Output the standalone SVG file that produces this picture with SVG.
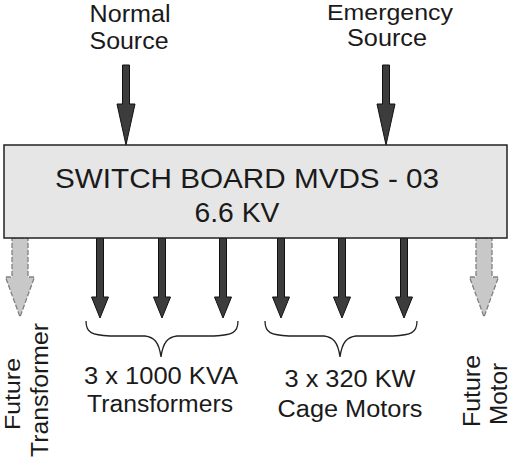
<svg xmlns="http://www.w3.org/2000/svg" width="511" height="461" viewBox="0 0 511 461">
<style>
.t{font-family:"Liberation Sans",Arial,sans-serif;fill:#1a1a1a}
.s{font-size:23px}
.dark{fill:#3c3c3c;stroke:#111;stroke-width:1}
.light{fill:#c8c8c8;stroke:#808080;stroke-width:1.3;stroke-dasharray:5 2}
.brace{fill:none;stroke:#222;stroke-width:1.3}
</style>
<defs>
<path id="topArrow" d="M-3.5,0 H3.5 V39 H9 L0,80 L-9,39 H-3.5 Z"/>
<path id="botArrow" d="M-3.5,0 H3.5 V59 H8.5 L0,80 L-8.5,59 H-3.5 Z"/>
<path id="futArrow" d="M-8,0 H8 V39 H14.5 L0,79 L-14.5,39 H-8 Z"/>
</defs>
<g id="connectors">
<use href="#topArrow" class="dark" transform="translate(126,65)"/>
<use href="#topArrow" class="dark" transform="translate(386,65)"/>
<use href="#botArrow" class="dark" transform="translate(100,238)"/>
<use href="#botArrow" class="dark" transform="translate(162,238)"/>
<use href="#botArrow" class="dark" transform="translate(223,238)"/>
<use href="#botArrow" class="dark" transform="translate(281,238)"/>
<use href="#botArrow" class="dark" transform="translate(342,238)"/>
<use href="#botArrow" class="dark" transform="translate(404,238)"/>
<use href="#futArrow" class="light" transform="translate(20,238)"/>
<use href="#futArrow" class="light" transform="translate(484,238)"/>
</g>
<g id="normal-source">
<text class="t s" x="130" y="22" text-anchor="middle" textLength="81" lengthAdjust="spacingAndGlyphs">Normal</text>
<text class="t s" x="129" y="49" text-anchor="middle" textLength="79" lengthAdjust="spacingAndGlyphs">Source</text>
</g>
<g id="emergency-source">
<text class="t" x="390" y="20" font-size="22" text-anchor="middle" textLength="126" lengthAdjust="spacingAndGlyphs">Emergency</text>
<text class="t s" x="387" y="46" text-anchor="middle" textLength="80" lengthAdjust="spacingAndGlyphs">Source</text>
</g>
<g id="switchboard">
<rect x="4" y="145" width="503" height="93" fill="#e6e6e6" stroke="#222" stroke-width="1.5"/>
<text class="t" x="247" y="188" font-size="28" text-anchor="middle" textLength="384" lengthAdjust="spacingAndGlyphs">SWITCH BOARD MVDS - 03</text>
<text class="t" x="237" y="222" font-size="28" text-anchor="middle" textLength="85" lengthAdjust="spacingAndGlyphs">6.6 KV</text>
</g>
<g id="transformers">
<path class="brace" d="M86,321 C86,333 92,335 110,336 H145 C154,337 159,342 161,357 C163,342 168,337 177,336 H214 C232,335 238,333 238,321"/>
<text class="t s" x="161" y="384" text-anchor="middle" textLength="154" lengthAdjust="spacingAndGlyphs">3 x 1000 KVA</text>
<text class="t s" x="160" y="412" text-anchor="middle" textLength="146" lengthAdjust="spacingAndGlyphs">Transformers</text>
</g>
<g id="motors">
<path class="brace" d="M265,321 C265,333 271,335 289,336 H324 C333,337 338,342 340,357 C342,342 347,337 356,336 H393 C411,335 417,333 417,321"/>
<text class="t s" x="350" y="387" text-anchor="middle" textLength="131" lengthAdjust="spacingAndGlyphs">3 x 320 KW</text>
<text class="t s" x="350" y="417" text-anchor="middle" textLength="145" lengthAdjust="spacingAndGlyphs">Cage Motors</text>
</g>
<g id="future-transformer">
<text class="t" transform="translate(20,394) rotate(-90)" font-size="22" text-anchor="middle" textLength="72" lengthAdjust="spacingAndGlyphs">Future</text>
<text class="t s" transform="translate(48,390) rotate(-90)" text-anchor="middle" textLength="134" lengthAdjust="spacingAndGlyphs">Transformer</text>
</g>
<g id="future-motor">
<text class="t s" transform="translate(480,391) rotate(-90)" text-anchor="middle" textLength="72" lengthAdjust="spacingAndGlyphs">Future</text>
<text class="t s" transform="translate(507,394) rotate(-90)" text-anchor="middle" textLength="62" lengthAdjust="spacingAndGlyphs">Motor</text>
</g>
</svg>
